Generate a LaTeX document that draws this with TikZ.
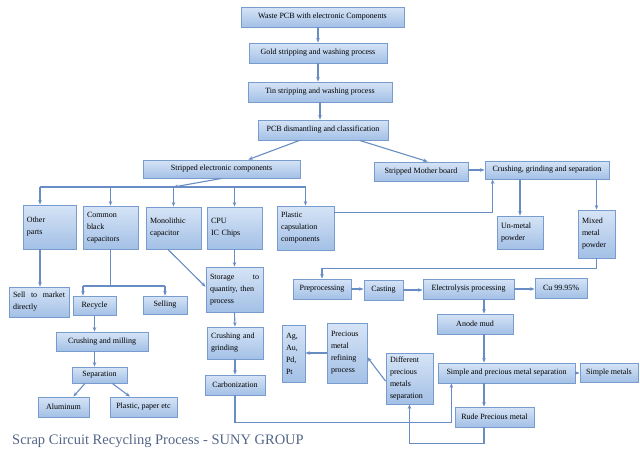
\documentclass[tikz,border=0pt]{standalone}
\usepackage{fontspec}
\setmainfont{Liberation Serif}
\usepackage{tikz}
\usetikzlibrary{calc,positioning,arrows.meta}
\definecolor{boxtop}{RGB}{214,228,246}
\definecolor{boxbot}{RGB}{163,192,230}
\definecolor{boxline}{RGB}{120,156,205}
\definecolor{flow}{RGB}{104,140,196}
\definecolor{titlecol}{RGB}{84,102,135}

\begin{document}
\begin{tikzpicture}[x=1pt,y=-1pt,
  blk/.style={draw=boxline,line width=0.9pt,top color=boxtop,bottom color=boxbot,
    font=\fontsize{8}{12}\selectfont,inner sep=1pt},
  tall/.style={blk,align=left,inner xsep=4pt},
  line/.style={draw=flow,line width=1.1pt},
  arr/.style={line,-{Stealth[length=4.5pt,width=3.6pt]}}]
  \useasboundingbox (0,0) rectangle (640,453);

  \node[blk,minimum width=163pt,minimum height=20pt] (waste) at (322.5,17) {Waste PCB with electronic Components};
  \node[blk,minimum width=138pt,minimum height=20pt] (gold) at (318,53) {Gold stripping and washing process};
  \node[blk,minimum width=144pt,minimum height=20pt] (tin) at (320,92) {Tin stripping and washing process};
  \node[blk,minimum width=130pt,minimum height=20pt] (pcb) at (323,130) {PCB dismantling and classification};
  \node[blk,minimum width=157pt,minimum height=18pt] (selec) at (221.5,169) {Stripped electronic components};
  \node[blk,minimum width=94pt,minimum height=19pt] (smother) at (421,171.5) {Stripped Mother board};
  \node[blk,minimum width=124pt,minimum height=18pt] (crush) at (547,170) {Crushing, grinding and separation};

  \node[tall,text width=45pt,minimum height=44pt] (other) at (49.5,227) {Other\\parts};
  \node[tall,text width=47pt,minimum height=43pt] (cblack) at (110.5,227.5) {Common\\black\\capacitors};
  \node[tall,text width=47pt,minimum height=42pt] (mono) at (173.5,228) {Monolithic\\capacitor};
  \node[tall,text width=47pt,minimum height=42pt] (cpu) at (234.5,228) {CPU\\IC Chips};
  \node[tall,text width=49pt,minimum height=44pt] (plastic) at (305.5,228) {Plastic\\capsulation\\components};
  \node[tall,text width=38pt,minimum height=33pt] (unmetal) at (520,232.5) {Un-metal\\powder};
  \node[tall,text width=29pt,minimum height=48pt] (mixed) at (596.5,234) {Mixed\\metal\\powder};

  \node[tall,text width=52pt,minimum height=30pt] (sell) at (39,302) {Sell \hfill to \hfill market\\directly};
  \node[blk,minimum width=43pt,minimum height=19pt] (recycle) at (94.5,305.5) {Recycle};
  \node[blk,minimum width=44pt,minimum height=18pt] (selling) at (165,305) {Selling};
  \node[tall,text width=49pt,minimum height=45pt] (storage) at (234.5,289.5) {Storage \hfill to\\quantity, then\\process};
  \node[blk,minimum width=92pt,minimum height=19pt] (cmill) at (102,341.5) {Crushing and milling};
  \node[blk,minimum width=55pt,minimum height=16pt] (sep) at (99.5,375) {Separation};
  \node[blk,minimum width=51pt,minimum height=20pt] (alu) at (63.5,407) {Aluminum};
  \node[blk,minimum width=67pt,minimum height=20pt] (ppaper) at (143.5,407) {Plastic, paper etc};
  \node[tall,text width=48pt,minimum height=32pt] (cgrind) at (235,343) {Crushing and\\grinding};
  \node[blk,minimum width=60pt,minimum height=20pt] (carbon) at (235,385) {Carbonization};

  \node[blk,minimum width=58pt,minimum height=20pt] (pre) at (322,289) {Preprocessing};
  \node[blk,minimum width=39pt,minimum height=20pt] (cast) at (383.5,290) {Casting};
  \node[blk,minimum width=91pt,minimum height=20pt] (electro) at (468.5,289) {Electrolysis processing};
  \node[blk,minimum width=52pt,minimum height=20pt] (cu) at (561,288) {Cu 99.95\%};
  \node[blk,minimum width=76pt,minimum height=20pt] (anode) at (475,324) {Anode mud};
  \node[blk,minimum width=137pt,minimum height=20pt] (simple) at (506.5,373) {Simple and precious metal separation};
  \node[blk,minimum width=58pt,minimum height=19pt] (smetals) at (609,372.5) {Simple metals};
  \node[blk,minimum width=79pt,minimum height=20pt] (rude) at (494.5,417) {Rude Precious metal};
  \node[tall,text width=39pt,minimum height=51pt] (diff) at (409.5,378.5) {Different\\precious\\metals\\separation};
  \node[tall,text width=32pt,minimum height=60pt] (refine) at (347,353) {Precious\\metal\\refining\\process};
  \node[tall,text width=15pt,minimum height=57pt] (ag) at (293.5,353.5) {Ag,\\Au,\\Pd,\\Pt};

  \node[anchor=base west,text=titlecol,font=\fontsize{14.5}{17}\selectfont,inner sep=0pt] (title) at (12,444)
    {Scrap Circuit Recycling Process - SUNY GROUP};

  \coordinate (bus) at (40,187);
  \coordinate (split) at (83,286);
  \coordinate (ax) at (484,0);

  \draw[arr] (waste.south -| gold.north) -- (gold.north);
  \draw[arr] (gold.south) -- (gold.south |- tin.north);
  \draw[arr] (tin.south) -- (tin.south |- pcb.north);
  \draw[arr] ($(pcb.south west)!.32!(pcb.south east)$) -- ($(selec.north west)!.67!(selec.north east)$);
  \draw[arr] ($(pcb.south west)!.78!(pcb.south east)$) -- ($(smother.north west)!.57!(smother.north east)$);
  \draw[arr] (crush.west -| smother.east) -- (crush.west);

  \draw[line] (bus) -- (bus -| plastic.north);
  \draw[arr] (selec.south) -- (bus -| mono.north);
  \draw[arr] (bus) -- (bus |- other.north);
  \foreach \n in {cblack,mono,cpu,plastic}
    \draw[arr] (bus -| \n.north) -- (\n.north);
  \draw[arr] (bus |- other.south) -- (bus |- sell.north);

  \draw[line] (cblack.south) -- (cblack.south |- split) (split) -- (split -| selling.north);
  \draw[arr] (split) -- (split |- recycle.north);
  \draw[arr] (split -| selling.north) -- (selling.north);
  \draw[arr] (recycle.south) -- (recycle.south |- cmill.north);
  \draw[arr] (recycle.south |- cmill.south) -- (recycle.south |- sep.north);
  \draw[arr] ($(sep.south west)!.24!(sep.south east)$) -- ($(alu.north west)!.69!(alu.north east)$);
  \draw[arr] ($(sep.south west)!.73!(sep.south east)$) -- ($(ppaper.north west)!.3!(ppaper.north east)$);

  \draw[arr] ($(mono.south west)!.4!(mono.south east)$) -- ($(storage.north west)!.44!(storage.south west)$);
  \draw[arr] (cpu.south) -- (storage.north);
  \draw[arr] (storage.south) -- (cgrind.north);
  \draw[arr] (cgrind.south) -- (carbon.north);
  \draw[arr] (carbon.south) -- ++(0,27) -| ($(simple.south west)!.1!(simple.south east)$);

  \draw[arr] ($(plastic.north east)!.16!(plastic.south east)$) -| ($(crush.south west)!.065!(crush.south east)$);
  \draw[arr] (unmetal.north |- crush.south) -- (unmetal.north);
  \draw[arr] (mixed.north |- crush.south) -- (mixed.north);
  \draw[arr] (mixed.south) -- ++(0,10) -| (pre.north);
  \draw[arr] (pre.east) -- (pre.east -| cast.west);
  \draw[arr] (cast.east) -- (cast.east -| electro.west);
  \draw[arr] (electro.east) -- (electro.east -| cu.west);
  \draw[arr] (electro.south -| ax) -- (ax |- anode.north);
  \draw[arr] (anode.south -| ax) -- (ax |- simple.north);
  \draw[arr] (simple.east) -- (simple.east -| smetals.west);
  \draw[arr] (simple.south -| ax) -- (ax |- rude.north);
  \draw[arr] (rude.south -| ax) -- ++(0,16) -| (diff.south);
  \draw[arr] ($(diff.north west)!.55!(diff.south west)$) -- ($(refine.north east)!.57!(refine.south east)$);
  \draw[arr] (refine.west) -- (refine.west -| ag.east);
\end{tikzpicture}
\end{document}
